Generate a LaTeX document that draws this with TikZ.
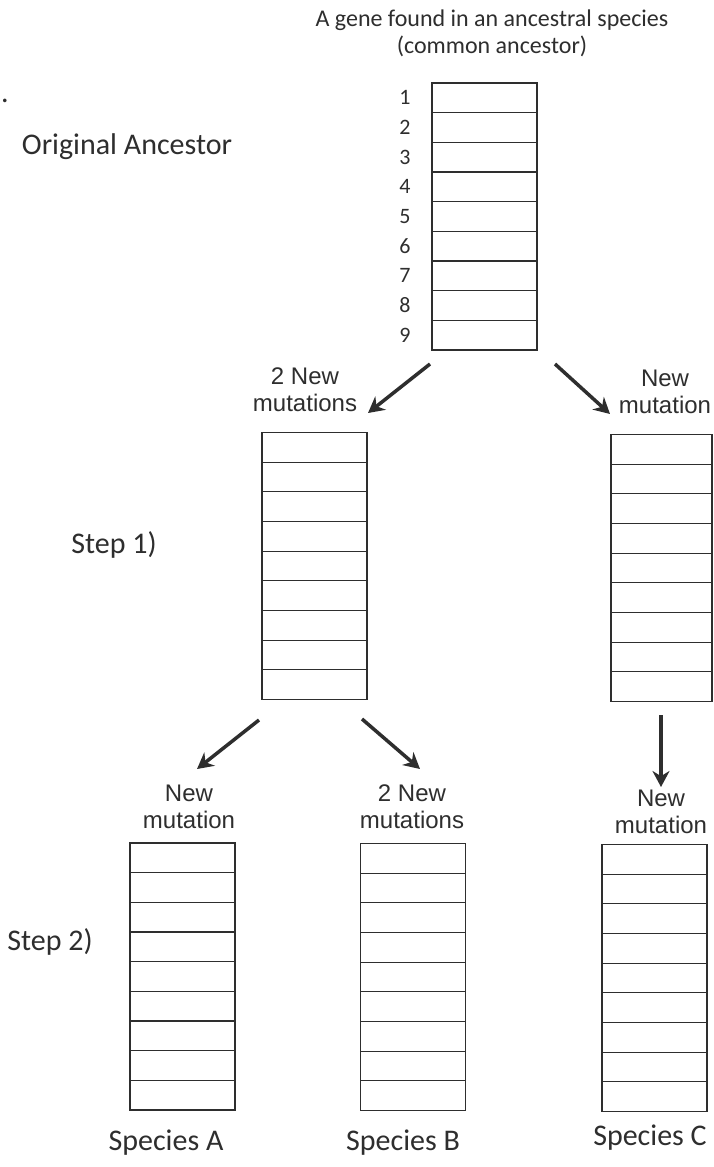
\documentclass[tikz,border=0pt]{standalone}
\usepackage{fontspec}
\setmainfont{Carlito}
\newfontfamily\arialfont{Liberation Sans}
\usetikzlibrary{arrows.meta,calc}
\definecolor{ink}{HTML}{2E2E2E}
\begin{document}
\begin{tikzpicture}[x=1pt,y=-1pt,
  genebox/.style={draw=ink, line width=1.3pt, minimum width=105pt, minimum height=267pt, inner sep=0pt, outer sep=0pt},
  rowline/.style={draw=ink, line width=1.1pt},
  mutlabel/.style={font=\arialfont\fontsize{24}{27}\selectfont, text=ink, align=center, inner sep=0pt},
  arr/.style={draw=ink, line width=3.5pt, -{Stealth[length=16pt,width=17pt]}},
  biglabel/.style={font=\fontsize{30}{34}\selectfont, text=ink, inner sep=0pt},
  numlabel/.style={font=\fontsize{22}{24}\selectfont, text=ink, inner sep=0pt},
  titlelabel/.style={font=\fontsize{24}{27}\selectfont, text=ink, align=center, inner sep=0pt}
]
\useasboundingbox[fill=white] (0,0) rectangle (713,1167);

% boxes
\node[genebox] (anc) at (484.5,216.5) {};
\node[genebox] (s1l) at (314.5,566) {};
\node[genebox, minimum width=101pt] (s1r) at (661.5,568) {};
\node[genebox] (sa) at (182.5,976.5) {};
\node[genebox] (sb) at (413,977) {};
\node[genebox] (sc) at (654.5,978) {};

\foreach \b in {anc,s1l,s1r,sa,sb,sc}{
  \foreach \i in {1,...,8}{
    \draw[rowline] ($(\b.north west)!\i/9!(\b.south west)$) -- ($(\b.north east)!\i/9!(\b.south east)$);
  }
}

% title and labels
\node[titlelabel] (title) at (492,33) {A gene found in an ancestral species\\(common ancestor)};
\node[biglabel] (dot) at (5,101) {.};
\node[biglabel] (orig) at (127,147) {Original Ancestor};
\node[biglabel] (step1) at (114,545) {Step 1)};
\node[biglabel] (step2) at (50,942) {Step 2)};
\node[biglabel] (spa) at (166,1143) {Species A};
\node[biglabel] (spb) at (403,1143) {Species B};
\node[biglabel] (spc) at (650,1138) {Species C};

% numbers
\foreach \i in {1,...,9}{
  \node[numlabel] (n\i) at ($(anc.north west)!{(\i-0.5)/9}!(anc.south west) + (-27,0)$) {\i};
}

% mutation labels
\node[mutlabel] (m1) at (305,390) {2 New\\mutations};
\node[mutlabel] (m2) at (665,392) {New\\mutation};
\node[mutlabel] (m3) at (189,807) {New\\mutation};
\node[mutlabel] (m4) at (412,807) {2 New\\mutations};
\node[mutlabel] (m5) at (661,812) {New\\mutation};

% arrows
\coordinate (a1s) at (430,364); \coordinate (a1e) at (368,413);
\coordinate (a2s) at (555,364); \coordinate (a2e) at (610,414);
\coordinate (a3s) at (259,720); \coordinate (a3e) at (197,769);
\coordinate (a4s) at (362,719); \coordinate (a4e) at (420,769);
\coordinate (a5s) at (661,715); \coordinate (a5e) at (661,787);
\draw[arr] (a1s) -- (a1e);
\draw[arr] (a2s) -- (a2e);
\draw[arr] (a3s) -- (a3e);
\draw[arr] (a4s) -- (a4e);
\draw[arr] (a5s) -- (a5e);
\end{tikzpicture}
\end{document}
